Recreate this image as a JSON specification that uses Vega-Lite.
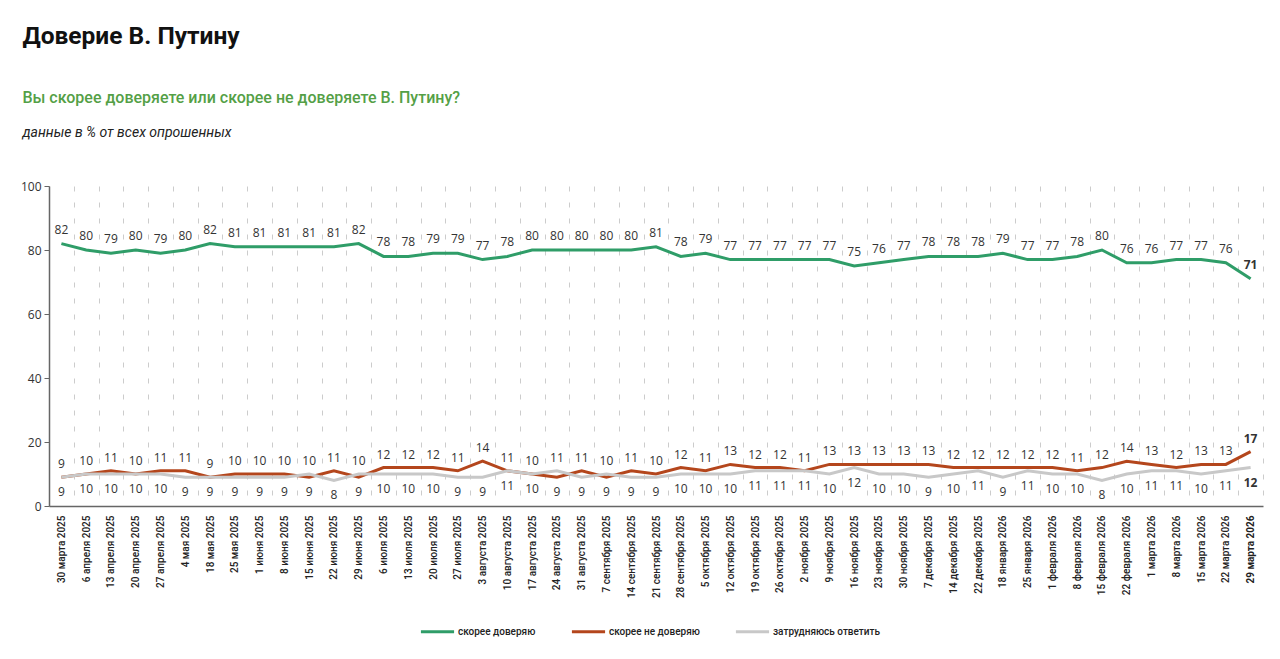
{
  "$schema": "https://vega.github.io/schema/vega-lite/v6.json",
  "padding": {"left": 20, "top": 23, "right": 5, "bottom": 5},
  "title": {
    "text": "Доверие В. Путину",
    "anchor": "start",
    "font": "Roboto",
    "fontSize": 24.5,
    "fontWeight": "bold",
    "color": "#111111",
    "offset": 41,
    "dx": 2
  },
  "vconcat": [
    {
      "title": {
        "text": "Вы скорее доверяете или скорее не доверяете В. Путину?",
        "subtitle": "данные в % от всех опрошенных",
        "anchor": "start",
        "font": "Roboto",
        "fontSize": 16,
        "fontWeight": 500,
        "color": "#54a046",
        "subtitleFont": "Roboto",
        "subtitleFontSize": 14,
        "subtitleFontStyle": "italic",
        "subtitleColor": "#222222",
        "subtitlePadding": 20,
        "offset": 40,
        "dx": 2
      },
      "width": 1214,
      "height": 320,
      "data": {
        "values": [
          {"d": "30 марта 2025", "t": 82, "n": 9, "z": 9},
          {"d": "6 апреля 2025", "t": 80, "n": 10, "z": 10},
          {"d": "13 апреля 2025", "t": 79, "n": 11, "z": 10},
          {"d": "20 апреля 2025", "t": 80, "n": 10, "z": 10},
          {"d": "27 апреля 2025", "t": 79, "n": 11, "z": 10},
          {"d": "4 мая 2025", "t": 80, "n": 11, "z": 9},
          {"d": "18 мая 2025", "t": 82, "n": 9, "z": 9},
          {"d": "25 мая 2025", "t": 81, "n": 10, "z": 9},
          {"d": "1 июня 2025", "t": 81, "n": 10, "z": 9},
          {"d": "8 июня 2025", "t": 81, "n": 10, "z": 9},
          {"d": "15 июня 2025", "t": 81, "n": 9, "z": 10},
          {"d": "22 июня 2025", "t": 81, "n": 11, "z": 8},
          {"d": "29 июня 2025", "t": 82, "n": 9, "z": 10},
          {"d": "6 июля 2025", "t": 78, "n": 12, "z": 10},
          {"d": "13 июля 2025", "t": 78, "n": 12, "z": 10},
          {"d": "20 июля 2025", "t": 79, "n": 12, "z": 10},
          {"d": "27 июля 2025", "t": 79, "n": 11, "z": 9},
          {"d": "3 августа 2025", "t": 77, "n": 14, "z": 9},
          {"d": "10 августа 2025", "t": 78, "n": 11, "z": 11},
          {"d": "17 августа 2025", "t": 80, "n": 10, "z": 10},
          {"d": "24 августа 2025", "t": 80, "n": 9, "z": 11},
          {"d": "31 августа 2025", "t": 80, "n": 11, "z": 9},
          {"d": "7 сентября 2025", "t": 80, "n": 9, "z": 10},
          {"d": "14 сентября 2025", "t": 80, "n": 11, "z": 9},
          {"d": "21 сентября 2025", "t": 81, "n": 10, "z": 9},
          {"d": "28 сентября 2025", "t": 78, "n": 12, "z": 10},
          {"d": "5 октября 2025", "t": 79, "n": 11, "z": 10},
          {"d": "12 октября 2025", "t": 77, "n": 13, "z": 10},
          {"d": "19 октября 2025", "t": 77, "n": 12, "z": 11},
          {"d": "26 октября 2025", "t": 77, "n": 12, "z": 11},
          {"d": "2 ноября 2025", "t": 77, "n": 11, "z": 11},
          {"d": "9 ноября 2025", "t": 77, "n": 13, "z": 10},
          {"d": "16 ноября 2025", "t": 75, "n": 13, "z": 12},
          {"d": "23 ноября 2025", "t": 76, "n": 13, "z": 10},
          {"d": "30 ноября 2025", "t": 77, "n": 13, "z": 10},
          {"d": "7 декабря 2025", "t": 78, "n": 13, "z": 9},
          {"d": "14 декабря 2025", "t": 78, "n": 12, "z": 10},
          {"d": "22 декабря 2025", "t": 78, "n": 12, "z": 11},
          {"d": "18 января 2026", "t": 79, "n": 12, "z": 9},
          {"d": "25 января 2026", "t": 77, "n": 12, "z": 11},
          {"d": "1 февраля 2026", "t": 77, "n": 12, "z": 10},
          {"d": "8 февраля 2026", "t": 78, "n": 11, "z": 10},
          {"d": "15 февраля 2026", "t": 80, "n": 12, "z": 8},
          {"d": "22 февраля 2026", "t": 76, "n": 14, "z": 10},
          {"d": "1 марта 2026", "t": 76, "n": 13, "z": 11},
          {"d": "8 марта 2026", "t": 77, "n": 12, "z": 11},
          {"d": "15 марта 2026", "t": 77, "n": 13, "z": 10},
          {"d": "22 марта 2026", "t": 76, "n": 13, "z": 11},
          {"d": "29 марта 2026", "t": 71, "n": 17, "z": 12}
        ]
      },
      "encoding": {
        "x": {
          "field": "d",
          "type": "ordinal",
          "sort": null,
          "scale": {"paddingInner": 0, "paddingOuter": 0},
          "axis": {
            "title": null,
            "labelAngle": -90,
            "labelFont": "Roboto",
            "labelFontSize": 10,
            "labelFontWeight": {"expr": "datum.value === '29 марта 2026' ? 'bold' : 500"},
            "labelColor": "#222222",
            "labelPadding": 9,
            "ticks": false,
            "tickBand": "extent",
            "grid": true,
            "gridColor": "#cccccc",
            "gridDash": [5, 11],
            "domainColor": "#666666",
            "domainWidth": 1.5
          }
        }
      },
      "layer": [
        {
          "transform": [{"fold": ["t", "n", "z"], "as": ["series", "value"]}],
          "mark": {"type": "line", "strokeWidth": 3},
          "encoding": {
            "y": {
              "field": "value",
              "type": "quantitative",
              "scale": {"domain": [0, 100], "nice": false},
              "axis": {
                "title": null,
                "values": [0, 20, 40, 60, 80, 100],
                "grid": false,
                "tickSize": 5,
                "tickColor": "#666666",
                "domainColor": "#666666",
                "domainWidth": 1.5,
                "labelFont": "Open Sans",
                "labelFontSize": 12,
                "labelColor": "#333333",
                "labelPadding": 3
              }
            },
            "color": {
              "field": "series",
              "type": "nominal",
              "scale": {"domain": ["t", "n", "z"], "range": ["#2f9d68", "#b4461c", "#c8c8c8"]},
              "legend": {
                "title": null,
                "orient": "none",
                "legendX": 370,
                "legendY": 427,
                "direction": "horizontal",
                "symbolType": "stroke",
                "symbolStrokeWidth": 3,
                "symbolSize": 1100,
                "labelFont": "Roboto",
                "labelFontSize": 10,
                "labelFontWeight": 500,
                "labelColor": "#222222",
                "labelOffset": 2,
                "columnPadding": 29,
                "labelExpr": "{'t': 'скорее доверяю', 'n': 'скорее не доверяю', 'z': 'затрудняюсь ответить'}[datum.label]"
              }
            }
          }
        },
        {
          "mark": {
            "type": "text",
            "dy": -14,
            "font": "Open Sans",
            "fontSize": 12,
            "color": "#333333",
            "fontWeight": {"expr": "datum.d === '29 марта 2026' ? 'bold' : 'normal'"}
          },
          "encoding": {
            "y": {"field": "t", "type": "quantitative"},
            "text": {"field": "t", "type": "quantitative"}
          }
        },
        {
          "transform": [{"fold": ["n", "z"], "as": ["series", "value"]}],
          "mark": {
            "type": "text",
            "dy": -13,
            "font": "Open Sans",
            "fontSize": 12,
            "color": "#333333",
            "fontWeight": {"expr": "datum.d === '29 марта 2026' ? 'bold' : 'normal'"}
          },
          "encoding": {
            "y": {"aggregate": "max", "field": "value", "type": "quantitative"},
            "text": {"aggregate": "max", "field": "value", "type": "quantitative"}
          }
        },
        {
          "transform": [{"fold": ["n", "z"], "as": ["series", "value"]}],
          "mark": {
            "type": "text",
            "dy": 15,
            "font": "Open Sans",
            "fontSize": 12,
            "color": "#333333",
            "fontWeight": {"expr": "datum.d === '29 марта 2026' ? 'bold' : 'normal'"}
          },
          "encoding": {
            "y": {"aggregate": "min", "field": "value", "type": "quantitative"},
            "text": {"aggregate": "min", "field": "value", "type": "quantitative"}
          }
        }
      ]
    }
  ],
  "config": {
    "view": {"stroke": null},
    "concat": {"spacing": 0}
  }
}
